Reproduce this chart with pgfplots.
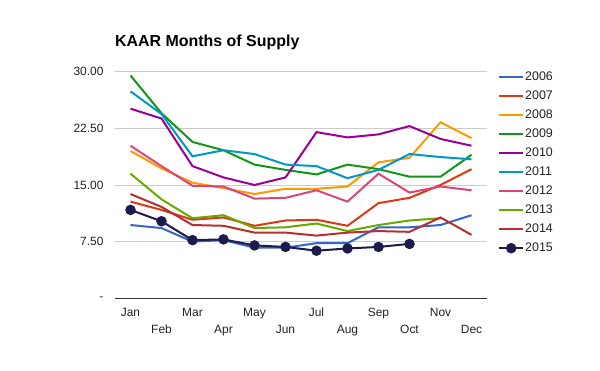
\documentclass[border=0pt]{standalone}
\usepackage{fontspec}
\setmainfont{Liberation Sans}
\usepackage{pgfplots}
\pgfplotsset{compat=1.18}
\definecolor{c06}{HTML}{3366CC}
\definecolor{c07}{HTML}{DC3912}
\definecolor{c08}{HTML}{FF9900}
\definecolor{c09}{HTML}{109618}
\definecolor{c10}{HTML}{990099}
\definecolor{c11}{HTML}{0099C6}
\definecolor{c12}{HTML}{DD4477}
\definecolor{c13}{HTML}{66AA00}
\definecolor{c14}{HTML}{B82E2E}
\definecolor{c15}{HTML}{1D1A4D}
\definecolor{txt}{HTML}{222222}
\begin{document}
\begin{tikzpicture}
\useasboundingbox (0,0) rectangle (600bp,371bp);
\begin{axis}[
  at={(115bp,72.7bp)}, anchor=south west,
  scale only axis, width=372bp, height=226.6bp,
  xmin=-0.5, xmax=11.5, ymin=0, ymax=30,
  axis x line=bottom, axis y line=left,
  x axis line style={-, draw=black!80, line width=1bp},
  y axis line style={draw=none},
  major tick length=0pt,
  ytick={0,7.5,15,22.5,30},
  yticklabels={-,7.50,15.00,22.50,30.00},
  ymajorgrids, grid style={draw=black!20, line width=0.8bp},
  xtick={0,2,4,6,8,10},
  xticklabels={Jan,Mar,May,Jul,Sep,Nov},
  extra x ticks={1,3,5,7,9,11},
  extra x tick labels={Feb,Apr,Jun,Aug,Oct,Dec},
  extra x tick style={grid=none, xticklabel style={yshift=-17bp}},
  xticklabel style={yshift=-6bp},
  yticklabel style={xshift=-8bp},
  tick label style={font=\fontsize{12}{14}\selectfont, text=txt},
  /pgf/number format/assume math mode=true,
  title={KAAR Months of Supply},
  title style={at={(0,1)}, anchor=base west, yshift=19bp, inner sep=0pt, font=\bfseries\fontsize{16}{18}\selectfont},
  every axis plot/.append style={line width=2bp, mark=none},
  legend image code/.code={\draw[mark repeat=2,mark phase=2,#1] plot coordinates {(0bp,0bp) (12bp,0bp) (24bp,0bp)};},
  legend style={at={(1.0296,1.0075)}, anchor=north west, draw=none, fill=none, inner sep=0pt,
    font=\fontsize{12.5}{14}\selectfont, text=txt, row sep=5bp,
    nodes={inner sep=1bp, text height=9bp, text depth=3bp}},
  legend cell align=left,
]
\addplot[c06] coordinates {(0,9.7)(1,9.3)(2,7.5)(3,7.7)(4,6.7)(5,6.7)(6,7.3)(7,7.3)(8,9.4)(9,9.4)(10,9.7)(11,11.0)};
\addlegendentry{2006}
\addplot[c07] coordinates {(0,12.8)(1,11.7)(2,10.4)(3,10.7)(4,9.6)(5,10.3)(6,10.4)(7,9.6)(8,12.6)(9,13.3)(10,15.0)(11,17.1)};
\addlegendentry{2007}
\addplot[c08] coordinates {(0,19.5)(1,17.2)(2,15.3)(3,14.6)(4,13.8)(5,14.5)(6,14.5)(7,14.8)(8,18.0)(9,18.6)(10,23.3)(11,21.2)};
\addlegendentry{2008}
\addplot[c09] coordinates {(0,29.5)(1,24.5)(2,20.7)(3,19.6)(4,17.7)(5,17.0)(6,16.4)(7,17.7)(8,17.1)(9,16.1)(10,16.1)(11,19.0)};
\addlegendentry{2009}
\addplot[c10] coordinates {(0,25.1)(1,23.8)(2,17.5)(3,16.0)(4,15.0)(5,16.0)(6,22.0)(7,21.3)(8,21.7)(9,22.8)(10,21.1)(11,20.2)};
\addlegendentry{2010}
\addplot[c11] coordinates {(0,27.4)(1,24.4)(2,18.8)(3,19.6)(4,19.1)(5,17.7)(6,17.5)(7,15.9)(8,17.0)(9,19.1)(10,18.7)(11,18.4)};
\addlegendentry{2011}
\addplot[c12] coordinates {(0,20.2)(1,17.5)(2,14.9)(3,14.8)(4,13.2)(5,13.3)(6,14.3)(7,12.8)(8,16.5)(9,14.0)(10,14.8)(11,14.3)};
\addlegendentry{2012}
\addplot[c13] coordinates {(0,16.5)(1,13.1)(2,10.6)(3,11.0)(4,9.3)(5,9.4)(6,9.9)(7,8.9)(8,9.7)(9,10.3)(10,10.6)};
\addlegendentry{2013}
\addplot[c14] coordinates {(0,13.8)(1,12.1)(2,9.7)(3,9.6)(4,8.7)(5,8.7)(6,8.3)(7,8.7)(8,8.9)(9,8.8)(10,10.7)(11,8.4)};
\addlegendentry{2014}
\addplot[c15, mark=*, mark size=4.2bp, mark options={solid, fill=c15, draw=c15}] coordinates {(0,11.7)(1,10.2)(2,7.7)(3,7.8)(4,7.0)(5,6.8)(6,6.3)(7,6.6)(8,6.8)(9,7.2)};
\addlegendentry{2015}
\end{axis}
\end{tikzpicture}
\end{document}
